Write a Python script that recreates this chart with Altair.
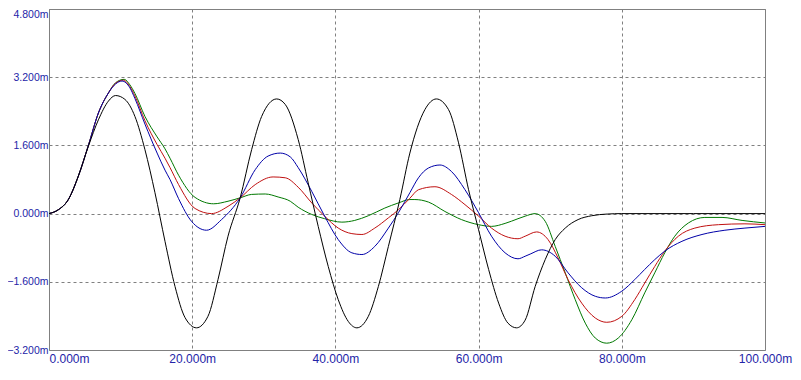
import altair as alt
import pandas as pd

# ---- data (x in m-units, y in m-units) ----
black_x = [0, 1.3, 2.7, 4.1, 5.5, 6.9, 8.3, 9.3, 10.6, 12.0, 13.4, 14.8, 16.2, 17.6, 19.0, 20.6,
           22.2, 23.6, 25.0, 26.7, 28.3, 29.7, 31.8, 33.0, 34.8, 36.2, 37.6, 39.0, 40.4, 41.8, 43.0,
           44.6, 46.0, 47.4, 49.0, 50.4, 52.5, 54.1, 55.8, 57.2, 58.6, 60.0, 61.4, 62.8, 64.1, 65.3,
           66.5, 67.9, 69.3, 70.7, 72.1, 73.9, 75.8, 78.0, 80.0, 90.0, 100.0]
black_y = [0, 0.09, 0.33, 0.88, 1.58, 2.20, 2.64, 2.77, 2.68, 2.28, 1.50, 0.49, -0.65, -1.71, -2.44, -2.68,
           -2.41, -1.55, -0.53, 0.37, 1.50, 2.28, 2.69, 2.56, 1.74, 0.72, -0.30, -1.24, -2.02, -2.53, -2.68,
           -2.41, -1.71, -0.77, 0.33, 1.42, 2.44, 2.69, 2.44, 1.66, 0.56, -0.38, -1.31, -2.10, -2.57, -2.68,
           -2.50, -1.71, -1.08, -0.61, -0.34, -0.14, -0.05, -0.01, 0.0, 0.0, 0.0]

blue_x = [0, 1.3, 2.7, 4.1, 5.5, 6.9, 8.3, 9.3, 10.2, 11.3, 12.0, 13.4, 15.1, 16.2, 16.9, 18.1, 19.9,
          22.0, 24.1, 26.7, 28.8, 30.6, 32.3, 33.7, 34.8, 36.7, 38.5, 40.4, 42.3, 43.7, 45.5, 47.4,
          48.8, 50.4, 51.6, 53.0, 54.6, 56.2, 58.1, 60.0, 61.8, 63.7, 65.5, 66.5, 67.2, 68.8, 70.7,
          72.5, 74.4, 76.3, 77.7, 80.0, 81.8, 83.2, 84.6, 86.0, 88.4, 91.2, 94.4, 97.2, 100.0]
blue_y = [0, 0.09, 0.33, 0.88, 1.60, 2.36, 2.83, 3.04, 3.11, 2.95, 2.70, 2.10, 1.42, 1.02, 0.80, 0.35, -0.18,
          -0.39, -0.14, 0.37, 1.03, 1.35, 1.42, 1.33, 1.08, 0.52, -0.06, -0.61, -0.92, -0.96, -0.77, -0.34,
          0.02, 0.49, 0.84, 1.07, 1.14, 0.99, 0.56, 0.02, -0.53, -0.92, -1.06, -1.00, -0.95, -0.85, -1.00,
          -1.39, -1.74, -1.94, -1.98, -1.82, -1.55, -1.31, -1.08, -0.88, -0.65, -0.49, -0.39, -0.34, -0.30]

red_x = [0, 1.3, 2.7, 4.1, 5.5, 6.9, 8.3, 9.3, 10.4, 11.3, 12.0, 13.4, 15.1, 16.2, 16.9, 18.1, 20.4,
         22.7, 25.0, 26.7, 28.8, 31.3, 33.0, 34.8, 36.7, 38.5, 40.4, 42.3, 43.7, 45.5, 47.4, 48.8,
         50.4, 51.6, 53.9, 56.2, 58.1, 60.0, 61.8, 63.7, 65.5, 66.5, 68.1, 69.7, 71.1, 72.5, 74.4,
         76.3, 77.9, 80.0, 81.8, 83.2, 84.6, 86.0, 87.9, 90.2, 93.5, 97.2, 100.0]
red_y = [0, 0.09, 0.33, 0.88, 1.60, 2.36, 2.83, 3.06, 3.13, 2.98, 2.76, 2.18, 1.62, 1.30, 1.08, 0.68, 0.12,
         0.0, 0.17, 0.37, 0.68, 0.86, 0.84, 0.62, 0.25, -0.06, -0.34, -0.47, -0.49, -0.34, -0.10, 0.09,
         0.36, 0.56, 0.63, 0.45, 0.21, -0.06, -0.34, -0.53, -0.59, -0.53, -0.43, -0.61, -1.04, -1.55, -2.10,
         -2.45, -2.55, -2.41, -2.02, -1.63, -1.24, -0.88, -0.53, -0.34, -0.26, -0.24, -0.26]

green_x = [0, 1.3, 2.7, 4.1, 5.5, 6.9, 8.3, 9.3, 10.5, 11.3, 12.0, 13.4, 15.1, 16.2, 16.9, 18.1, 20.4,
           23.0, 25.0, 26.7, 28.3, 30.2, 32.0, 33.7, 34.8, 36.7, 38.5, 40.9, 42.7, 44.6, 46.9, 48.8,
           50.4, 51.1, 53.0, 55.3, 57.6, 60.0, 61.8, 63.7, 65.5, 66.5, 67.9, 69.3, 70.7, 72.1, 73.5,
           74.9, 76.3, 77.9, 79.5, 81.4, 83.2, 84.6, 86.0, 87.4, 89.3, 91.6, 94.0, 96.8, 100.0]
green_y = [0, 0.09, 0.33, 0.88, 1.60, 2.36, 2.83, 3.07, 3.15, 3.02, 2.82, 2.28, 1.80, 1.52, 1.30, 0.90, 0.38,
           0.23, 0.29, 0.37, 0.45, 0.46, 0.39, 0.29, 0.15, -0.02, -0.12, -0.20, -0.16, -0.05, 0.13, 0.25,
           0.33, 0.33, 0.27, 0.05, -0.14, -0.26, -0.30, -0.23, -0.12, -0.06, 0.0, -0.18, -0.77, -1.39, -2.02,
           -2.57, -2.92, -3.04, -2.92, -2.49, -1.86, -1.39, -0.92, -0.53, -0.22, -0.09, -0.09, -0.16, -0.22]

x_ticks = [0, 20, 40, 60, 80, 100]
y_ticks = [-3.2, -1.6, 0, 1.6, 3.2, 4.8]

series = [("green", green_x, green_y, "#007800"),
          ("red", red_x, red_y, "#c01010"),
          ("blue", blue_x, blue_y, "#0000a8"),
          ("black", black_x, black_y, "#000000")]

label_color = "#2424a8"
font = "Liberation Sans"

x_enc = alt.X("x:Q",
              scale=alt.Scale(domain=[0, 100], nice=False, zero=False),
              axis=alt.Axis(values=x_ticks, title=None,
                            labelExpr="format(datum.value, '.3f') + 'm'",
                            labelAlign={"condition": {"test": "datum.value == 0", "value": "left"},
                                        "value": "center"},
                            labelFontSize=12,
                            labelPadding=3))
y_enc = alt.Y("y:Q",
              scale=alt.Scale(domain=[-3.2, 4.8], nice=False, zero=False),
              axis=alt.Axis(values=y_ticks, title=None,
                            labelExpr="format(datum.value, '.3f') + 'm'",
                            labelBaseline={"condition": {"test": "datum.value > 4.7", "value": "top"},
                                           "value": "middle"},
                            labelFontSize=10.5,
                            labelPadding=1))

layers = []
for name, xs, ys, col in series:
    df = pd.DataFrame({"x": xs, "y": ys})
    layers.append(
        alt.Chart(df).mark_line(color=col, strokeWidth=1, interpolate="monotone")
        .encode(x=x_enc, y=y_enc)
    )

chart = alt.layer(*layers).properties(
    width=716, height=341,
    background="white",
    autosize=alt.AutoSizeParams(type="none"),
    padding={"left": 41, "top": 1, "right": 28, "bottom": 22},
).configure_view(
    stroke="#808080", strokeWidth=1
).configure_axis(
    grid=True, gridColor="#808080", gridDash=[3, 3], gridWidth=1, gridOpacity=1,
    ticks=False, domain=False,
    labelColor=label_color, labelFont=font,
    labelOverlap=False, labelBound=False, labelFlush=False
)

chart.save("out.html", embed_options={"renderer": "svg", "actions": False})
